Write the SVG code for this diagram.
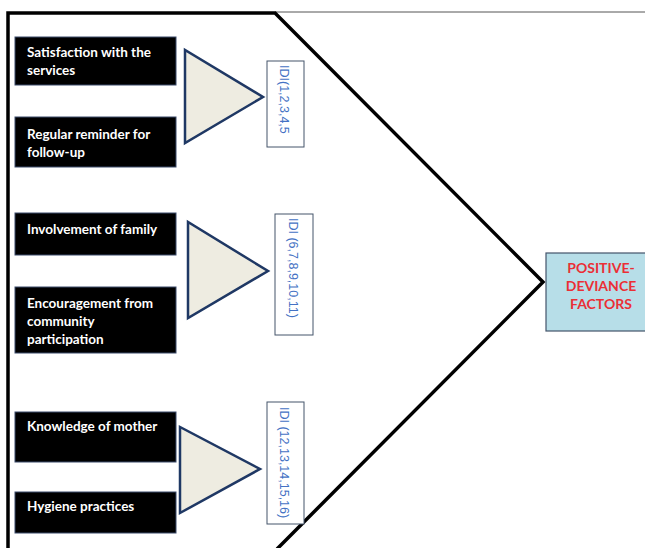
<svg xmlns="http://www.w3.org/2000/svg" width="645" height="548" viewBox="0 0 645 548">
<style>
.box{fill:#000;stroke:#3a4a6a;stroke-width:1}
.bt{fill:#fff;font-family:Lato,"Open Sans",sans-serif;font-weight:bold;font-size:13.5px}
.tri{fill:#EEECE1;stroke:#1F3864;stroke-width:2.5;stroke-linejoin:miter}
.idi{fill:#fff;stroke:#44546A;stroke-width:1}
.it{fill:#4472C4;font-family:"Liberation Sans",Arial,sans-serif;font-size:12.5px}
.pd{fill:#B7DEE8;stroke:#44546A;stroke-width:1.2}
.pt{fill:#EB2F35;font-family:Lato,"Open Sans",sans-serif;font-weight:bold;font-size:14px;text-anchor:middle}
</style>
<rect width="645" height="548" fill="#fff"/>
<g id="connectors">
<line x1="275" y1="12" x2="645" y2="12" stroke="#555" stroke-width="1"/>
<polyline points="8,548 8,13 275,13 543,282 277,549" fill="none" stroke="#000" stroke-width="3.5" stroke-linejoin="miter"/>
</g>
<g id="n1"><rect class="box" x="15" y="37" width="161" height="48"/><text class="bt"><tspan x="27" y="57">Satisfaction with the</tspan><tspan x="27" y="75">services</tspan></text></g>
<g id="n2"><rect class="box" x="15" y="117" width="161" height="50"/><text class="bt"><tspan x="27" y="139">Regular reminder for</tspan><tspan x="27" y="157">follow-up</tspan></text></g>
<g id="n3"><rect class="box" x="15" y="213" width="161" height="42"/><text class="bt"><tspan x="27" y="234">Involvement of family</tspan></text></g>
<g id="n4"><rect class="box" x="15" y="287" width="161" height="66"/><text class="bt"><tspan x="27" y="308">Encouragement from</tspan><tspan x="27" y="326">community</tspan><tspan x="27" y="344">participation</tspan></text></g>
<g id="n5"><rect class="box" x="15" y="412" width="161" height="50"/><text class="bt"><tspan x="27" y="431">Knowledge of mother</tspan></text></g>
<g id="n6"><rect class="box" x="15" y="492" width="161" height="41"/><text class="bt"><tspan x="27" y="511">Hygiene practices</tspan></text></g>
<g id="t1"><polygon class="tri" points="185,50 185,143 263,97"/></g>
<g id="t2"><polygon class="tri" points="188,222 188,318 268,271"/></g>
<g id="t3"><polygon class="tri" points="180,427 180,513 260,469"/></g>
<g id="i1"><rect class="idi" x="267" y="61" width="37" height="86"/><text class="it" transform="translate(280,65) rotate(90)">IDI(1,2,3,4,5</text></g>
<g id="i2"><rect class="idi" x="275" y="214" width="38" height="121"/><text class="it" transform="translate(289,218) rotate(90)">IDI (6,7,8,9,10,11)</text></g>
<g id="i3"><rect class="idi" x="267" y="402" width="37" height="122"/><text class="it" transform="translate(280,407) rotate(90)">IDI (12,13,14,15,16)</text></g>
<g id="pd"><rect class="pd" x="546" y="253" width="102" height="78"/><text class="pt"><tspan x="601" y="273">POSITIVE-</tspan><tspan x="601" y="291">DEVIANCE</tspan><tspan x="601" y="309">FACTORS</tspan></text></g>
</svg>
